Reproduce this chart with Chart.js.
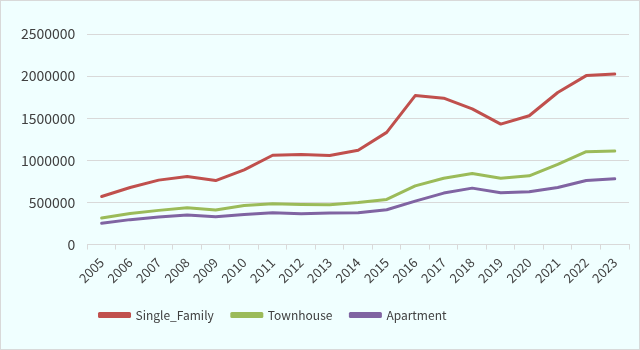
<!DOCTYPE html>
<html><head><meta charset="utf-8">
<script src="https://cdn.jsdelivr.net/npm/chart.js@4/dist/chart.umd.min.js"></script>
<style>
html,body{margin:0;padding:0;background:#fff;}
#wrap{position:absolute;left:0;top:0;width:638px;height:348px;border:1px solid #D9D9D9;background:#F0FFFF;}
canvas{display:block;}
</style></head>
<body>
<div id="wrap"><canvas id="c" width="638" height="348"></canvas></div>
<script>
const years = ['2005','2006','2007','2008','2009','2010','2011','2012','2013','2014','2015','2016','2017','2018','2019','2020','2021','2022','2023'];
const singleFamily = [571000,677000,765000,807000,760000,887000,1060000,1068000,1058000,1119000,1332000,1769000,1738000,1611000,1430000,1529000,1805000,2006000,2025000];
const townhouse = [315000,370000,406000,437000,410000,465000,485000,477000,473000,500000,536000,697000,788000,843000,788000,816000,953000,1103000,1111000];
const apartment = [252000,296000,327000,351000,331000,358000,378000,366000,374000,378000,414000,516000,611000,670000,615000,626000,677000,760000,780000];
const yTicks = [0,500000,1000000,1500000,2000000,2500000];

const FONT = "'Noto Sans CJK JP','Noto Sans',sans-serif";
const shiftLegend = {
  id:'shiftLegend',
  beforeDraw(chart){
    const lg = chart.legend;
    if(!lg._shifted){ lg.left -= 46; lg.right -= 46; lg._shifted = true; }
  }
};
function ds(label, data, color){
  return {label, data, borderColor:color, backgroundColor:color, borderWidth:3, pointRadius:0, tension:0, fill:false, borderCapStyle:'round', borderJoinStyle:'round'};
}
new Chart(document.getElementById('c'), {
  type:'line',
  data:{labels:years, datasets:[
    ds('Single_Family', singleFamily, '#C0504D'),
    ds('Townhouse', townhouse, '#9BBB59'),
    ds('Apartment', apartment, '#8064A2')
  ]},
  options:{
    responsive:false, animation:false,
    layout:{padding:{top:33,right:10,left:8,bottom:18}},
    plugins:{
      legend:{position:'bottom', labels:{boxWidth:30, boxHeight:3, padding:18, color:'#404040', font:{family:FONT, size:12}}},
      tooltip:{enabled:false}
    },
    scales:{
      x:{offset:true,
        grid:{offset:true, drawOnChartArea:false, drawTicks:true, tickLength:5, color:'#D9D9D9'},
        border:{color:'#D9D9D9'},
        ticks:{minRotation:45, maxRotation:45, color:'#404040', font:{family:FONT, size:13}, padding:5}
      },
      y:{min:0, max:2500000,
        afterBuildTicks(axis){ axis.ticks = yTicks.map(v=>({value:v})); },
        grid:{color:'#D9D9D9', drawTicks:false},
        border:{display:false},
        ticks:{color:'#404040', font:{family:FONT, size:14}, padding:12, callback:v=>String(v)}
      }
    }
  },
  plugins:[shiftLegend]
});
</script>
</body></html>
